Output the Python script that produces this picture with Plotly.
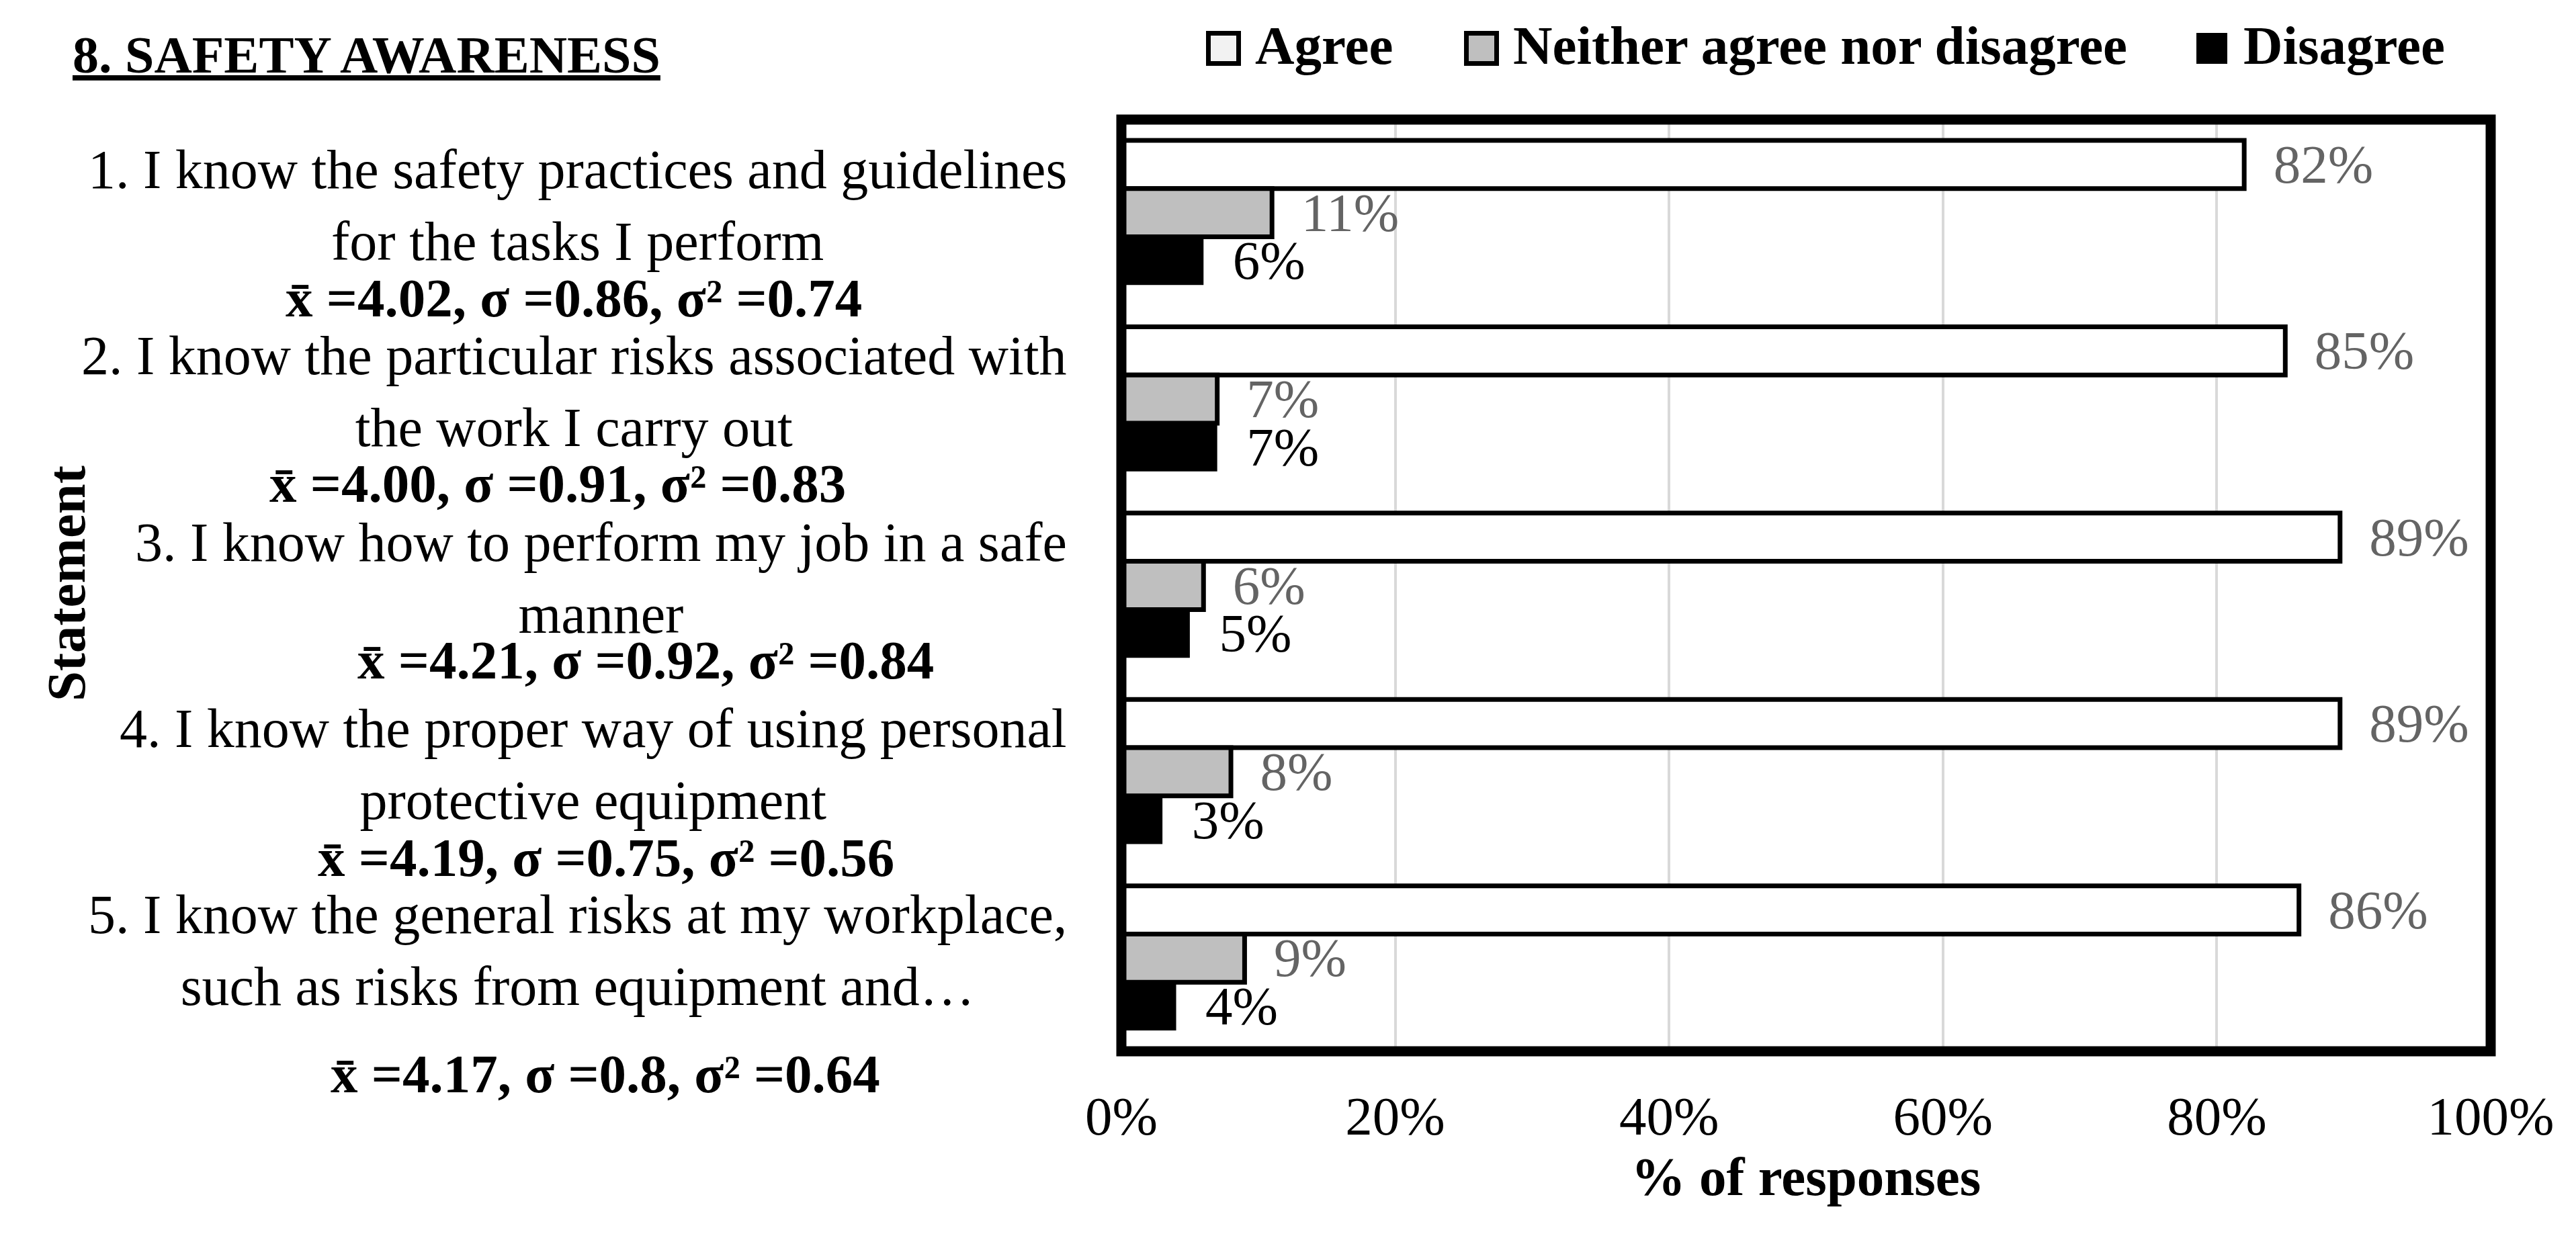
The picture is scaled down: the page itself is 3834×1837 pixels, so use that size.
import plotly.graph_objects as go

# ---------------- data ----------------
statements = [
    "1. I know the safety practices and guidelines<br>for the tasks I perform",
    "2. I know the particular risks associated with<br>the work I carry out",
    "3. I know how to perform my job in a safe<br>manner",
    "4. I know the proper way of using personal<br>protective equipment",
    "5. I know the general risks at my workplace,<br>such as risks from equipment and…",
]
series_names = ["Agree", "Neither agree nor disagree", "Disagree"]
agree = [82, 85, 89, 89, 86]
neither = [11, 7, 6, 8, 9]
disagree = [6, 7, 5, 3, 4]
means = ["4.02", "4.00", "4.21", "4.19", "4.17"]
sds = ["0.86", "0.91", "0.92", "0.75", "0.8"]
variances = ["0.74", "0.83", "0.84", "0.56", "0.64"]
x_ticks = [0, 20, 40, 60, 80, 100]
x_ticktext = ["0%", "20%", "40%", "60%", "80%", "100%"]

# ---------------- layout constants ----------------
W, H = 3834, 1837
ML, MR, MT, MB = 1661, 135, 170, 280
PW, PH = W - ML - MR, H - MT - MB
FONT = "Liberation Serif"
FS = 81


def px_x(px):
    return (px - ML) / PW


def px_y(py):
    return (H - MB - py) / PH


fig = go.Figure()

bar_styles = [
    dict(color="#FFFFFF", line=dict(color="black", width=7)),
    dict(color="#BFBFBF", line=dict(color="black", width=7)),
    dict(color="#000000", line=dict(color="black", width=0)),
]
label_colors = ["#646464", "#646464", "#000000"]

for name, vals, style, lc in zip(series_names, [agree, neither, disagree], bar_styles, label_colors):
    fig.add_trace(go.Bar(
        name=name, y=statements, x=vals, orientation="h",
        marker=style,
        text=[f"\u00a0\u00a0{v}%" for v in vals], texttemplate="%{text}",
        textposition="outside",
        textfont=dict(family=FONT, size=FS, color=lc),
        constraintext="none", cliponaxis=False, showlegend=False,
    ))

annotations = []
# statement labels (category labels): centred two-line block, right edge near the axis
for s in statements:
    annotations.append(dict(
        x=0, xref="paper", y=s, yref="y", xanchor="right", yanchor="middle",
        xshift=-79, yshift=11, text=s, align="center", showarrow=False,
        font=dict(family=FONT, size=82, color="black"),
    ))

# statistics lines (positions in pixels)
stat_cx = [846, 822, 953, 894, 893]
stat_dy = [127, 126, 111, 128, 173]
for s, m, sd, v, cx, dy in zip(statements, means, sds, variances, stat_cx, stat_dy):
    annotations.append(dict(
        x=px_x(cx), xref="paper", y=s, yref="y", xanchor="center", yanchor="middle",
        yshift=-dy, showarrow=False,
        text=f"<b>x\u0304 ={m}, σ ={sd}, σ² ={v}</b>",
        font=dict(family=FONT, size=FS, color="black"),
    ))

# title
annotations.append(dict(
    x=px_x(98), xref="paper", y=px_y(73), yref="paper", xanchor="left", yanchor="middle",
    text="<b><u>8. SAFETY AWARENESS</u></b>", showarrow=False,
    font=dict(family=FONT, size=78, color="black"),
))

# y axis title
annotations.append(dict(
    x=px_x(91), xref="paper", y=px_y(861), yref="paper", xanchor="center", yanchor="middle",
    text="<b>Statement</b>", textangle=-90, showarrow=False,
    font=dict(family=FONT, size=FS, color="black"),
))

# custom legend
legend_items = [
    (series_names[0], (1790.5, 41.5, 1835.5, 86.5), "#F2F2F2", 7, 1858),
    (series_names[1], (2174.5, 41.5, 2219.5, 86.5), "#BFBFBF", 7, 2242),
    (series_names[2], (3261, 41, 3307, 87), "#000000", 0, 3329),
]
shapes = []
for name, (x0, y0, x1, y1), fill, lw, tx in legend_items:
    shapes.append(dict(
        type="rect", xref="paper", yref="paper",
        x0=px_x(x0), x1=px_x(x1), y0=px_y(y1), y1=px_y(y0),
        fillcolor=fill, line=dict(color="black", width=lw),
    ))
    annotations.append(dict(
        x=px_x(tx), xref="paper", y=px_y(60), yref="paper", xanchor="left", yanchor="middle",
        text=f"<b>{name}</b>", showarrow=False,
        font=dict(family=FONT, size=FS, color="black"),
    ))

# plot frame
shapes.append(dict(
    type="rect", xref="paper", yref="paper", x0=0, x1=1, y0=0, y1=1,
    line=dict(color="black", width=15), layer="above",
))

fig.update_layout(
    width=W, height=H,
    margin=dict(l=ML, r=MR, t=MT, b=MB, autoexpand=False),
    paper_bgcolor="white", plot_bgcolor="white",
    barmode="group", bargap=0.224, bargroupgap=0,
    font=dict(family=FONT, size=FS, color="black"),
    showlegend=False,
    annotations=annotations, shapes=shapes,
    xaxis=dict(
        range=[0, 100], tickmode="array", tickvals=x_ticks, ticktext=x_ticktext,
        showgrid=True, gridcolor="#D9D9D9", gridwidth=4,
        zeroline=False, showline=False, ticks="",
        ticklabelstandoff=42,
        tickfont=dict(family=FONT, size=FS, color="black"),
        title=dict(text="<b>% of responses</b>", standoff=13,
                   font=dict(family=FONT, size=FS, color="black")),
    ),
    yaxis=dict(
        type="category", categoryorder="array", categoryarray=statements,
        range=[4.5, -0.5], autorange=False,
        showticklabels=False, showgrid=False, zeroline=False, showline=False, ticks="",
    ),
)

fig.write_html("out.html")
